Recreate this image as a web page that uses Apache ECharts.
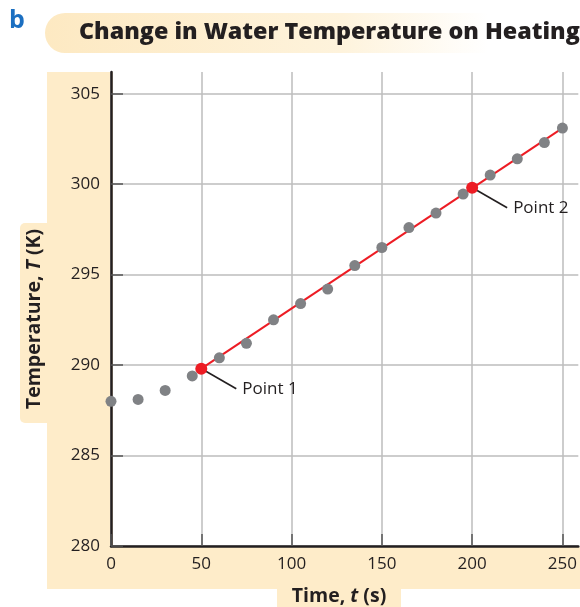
<!DOCTYPE html>
<html>
<head>
<meta charset="utf-8">
<script src="https://cdn.jsdelivr.net/npm/echarts@6/dist/echarts.min.js"></script>
<style>
html,body{margin:0;padding:0;background:#fff;}
#chart{width:580px;height:607px;}
</style>
</head>
<body>
<div id="chart"></div>
<script>
// ---- data ----
const times = [0, 15, 30, 45, 60, 75, 90, 105, 120, 135, 150, 165, 180, 195, 210, 225, 240, 250];
const temps = [288.0, 288.1, 288.6, 289.4, 290.4, 291.2, 292.5, 293.4, 294.2, 295.5, 296.5, 297.6, 298.4, 299.45, 300.5, 301.4, 302.3, 303.1];
const keyTimes = [50, 200];
const keyTemps = [289.8, 299.8];
const keyLabels = ['Point 1', 'Point 2'];
const fitTimes = [50, 250];
const fitTemps = [289.8, 303.1];
const xTicks = [0, 50, 100, 150, 200, 250];
const yTicks = [280, 285, 290, 295, 300, 305];
const titleText = 'Change in Water Temperature on Heating';
const panelLetter = 'b';

const FONT = '"Open Sans", "DejaVu Sans", sans-serif';
const INK = '#231f20';
const PEACH = '#feecc9';

const chart = echarts.init(document.getElementById('chart'), null, {renderer: 'canvas'});

const baseGraphics = [
  // title banner
  {type: 'rect', z: -10, shape: {x: 45, y: 13, width: 540, height: 40, r: [20, 0, 0, 20]},
   style: {fill: new echarts.graphic.LinearGradient(0, 0, 1, 0, [
     {offset: 0, color: '#fde9c2'}, {offset: 0.55, color: '#fef3dc'}, {offset: 0.82, color: '#ffffff'}, {offset: 1, color: '#ffffff'}])}},
  {type: 'text', z: 10, left: 9, top: 8,
   style: {text: panelLetter, fill: '#1b6fc1', font: 'bold 25px ' + FONT}},
  {type: 'text', z: 10, x: 79, y: 32,
   style: {text: titleText, fill: INK, font: '800 23.3px ' + FONT, verticalAlign: 'middle', align: 'left'}},
  // y axis label background
  {type: 'rect', z: -10, shape: {x: 47, y: 72, width: 66, height: 517}, style: {fill: PEACH}},
  {type: 'rect', z: -10, shape: {x: 20, y: 223, width: 40, height: 200, r: [5, 0, 0, 5]}, style: {fill: PEACH}},
  // x axis label background
  {type: 'rect', z: -10, shape: {x: 47, y: 547, width: 533, height: 42}, style: {fill: PEACH}},
  {type: 'rect', z: -10, shape: {x: 277, y: 585, width: 124, height: 22}, style: {fill: PEACH}},
  // axis titles
  {type: 'text', z: 10, x: 34, y: 319, rotation: Math.PI / 2,
   style: {text: '{b|Temperature, }{bi|T}{b| (K)}', align: 'center', verticalAlign: 'middle',
     rich: {b: {font: 'bold 19.5px ' + FONT, fill: INK}, bi: {font: 'italic bold 19.5px ' + FONT, fill: INK}}}},
  {type: 'text', z: 10, x: 339, y: 596,
   style: {text: '{b|Time, }{bi|t}{b| (s)}', align: 'center', verticalAlign: 'middle',
     rich: {b: {font: 'bold 19.5px ' + FONT, fill: INK}, bi: {font: 'italic bold 19.5px ' + FONT, fill: INK}}}}
];

const option = {
  animation: false,
  backgroundColor: '#ffffff',
  grid: {left: 111, right: 0, top: 72, bottom: 61, containLabel: false},
  xAxis: {
    type: 'value', min: 0, max: 258.8,
    axisLine: {show: true, onZero: false, lineStyle: {color: INK, width: 2.5}},
    axisTick: {show: true, inside: true, length: 12, customValues: xTicks, lineStyle: {color: '#555', width: 1.5}},
    axisLabel: {customValues: xTicks, margin: 10, color: INK, fontSize: 17, fontFamily: FONT},
    splitLine: {show: true, lineStyle: {color: '#bcbcbc', width: 1.5}}
  },
  yAxis: {
    type: 'value', min: 280, max: 306.2,
    axisLine: {show: true, onZero: false, lineStyle: {color: INK, width: 2.5}},
    axisTick: {show: true, inside: true, length: 12, customValues: yTicks, lineStyle: {color: '#555', width: 1.5}},
    axisLabel: {customValues: yTicks, margin: 11, color: INK, fontSize: 17, fontFamily: FONT},
    splitLine: {show: true, lineStyle: {color: '#bcbcbc', width: 1.5}}
  },
  series: [
    {type: 'line', z: 3, data: fitTimes.map((t, i) => [t, fitTemps[i]]), showSymbol: false, symbol: 'none',
     lineStyle: {color: '#ed1c24', width: 2}, silent: true},
    {type: 'scatter', z: 4, data: times.map((t, i) => [t, temps[i]]), symbolSize: 11,
     itemStyle: {color: '#808285', opacity: 1}},
    {type: 'scatter', z: 5, data: keyTimes.map((t, i) => [t, keyTemps[i]]), symbolSize: 12,
     itemStyle: {color: '#ed1c24', opacity: 1}}
  ],
  graphic: {elements: baseGraphics}
};
chart.setOption(option);

// leader lines and point labels positioned through the chart's own scales
const extra = [];
keyTimes.forEach((t, i) => {
  const p = chart.convertToPixel({gridIndex: 0}, [t, keyTemps[i]]);
  const ex = p[0] + 35, ey = p[1] + 20;
  extra.push({type: 'line', z: 4, shape: {x1: p[0] + 2, y1: p[1] + 1, x2: ex, y2: ey},
    style: {stroke: INK, lineWidth: 1.6}});
  extra.push({type: 'text', z: 10, x: ex + 6, y: ey,
    style: {text: keyLabels[i], fill: INK, font: '17px ' + FONT, verticalAlign: 'middle', align: 'left'}});
});
chart.setOption({graphic: {elements: baseGraphics.concat(extra)}});
</script>
</body>
</html>
